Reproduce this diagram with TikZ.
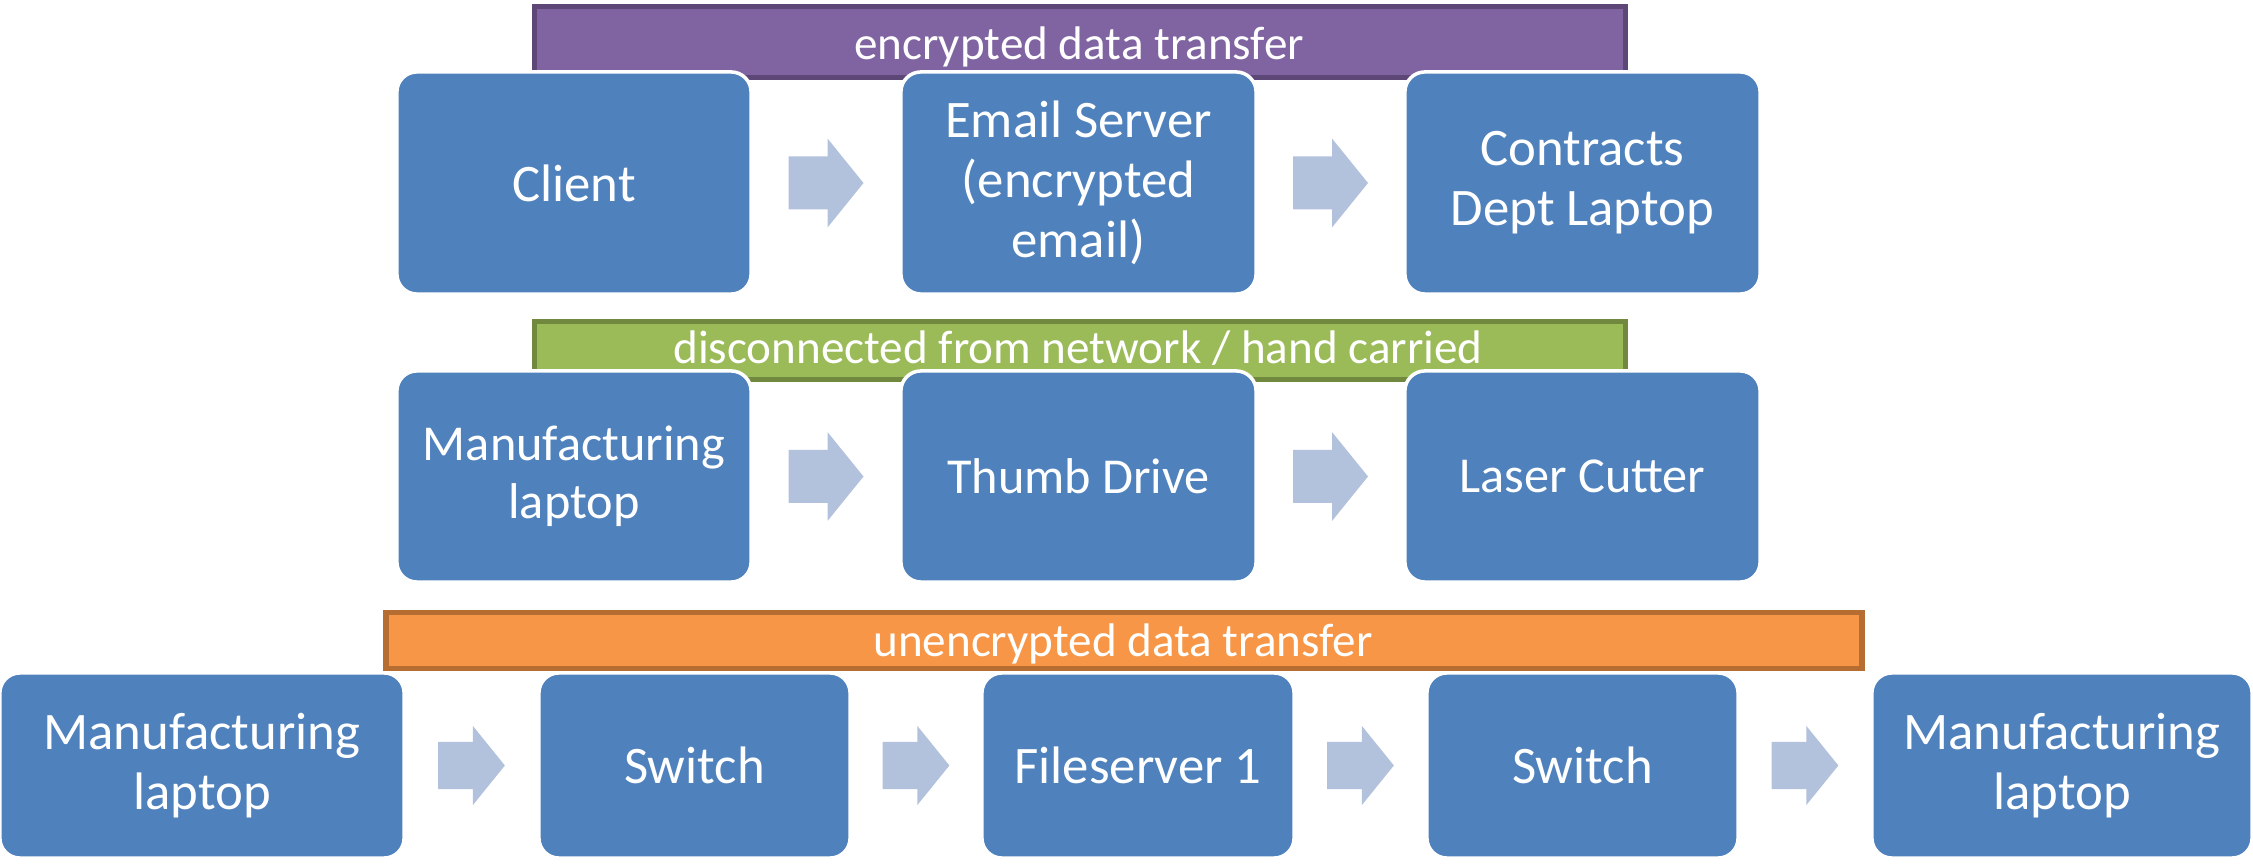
\documentclass[tikz,border=0pt]{standalone}
\usepackage{fontspec}
\setmainfont{Carlito}
\usetikzlibrary{calc}
\definecolor{boxblue}{HTML}{4F81BD}
\definecolor{arrowblue}{HTML}{B3C2DC}
\definecolor{purplefill}{HTML}{8064A2}
\definecolor{purpleline}{HTML}{5C4776}
\definecolor{greenfill}{HTML}{9BBB59}
\definecolor{greenline}{HTML}{71893F}
\definecolor{orangefill}{HTML}{F79646}
\definecolor{orangeline}{HTML}{B66D31}
\begin{document}
\begin{tikzpicture}[x=0.01cm,y=-0.01cm,
  stepbox/.style={draw=white, line width=1pt, fill=boxblue, rounded corners=0.2cm,
    text=white, align=center, inner sep=0pt, font=\fontsize{15}{17}\selectfont},
  smallstep/.style={stepbox, font=\fontsize{14.3}{16.5}\selectfont},
  bandbox/.style={line width=1.5pt, inner sep=0pt},
  bandtext/.style={text=white, anchor=base, inner sep=0pt, font=\fontsize{13.4}{16}\selectfont},
  flowarrow/.pic={\fill[arrowblue] (-37.5,-26.5) -- (1.5,-26.5) -- (1.5,-44.5) -- (37.5,0)
    -- (1.5,44.5) -- (1.5,26.5) -- (-37.5,26.5) -- cycle;}
]
\useasboundingbox (0,0) rectangle (2253,864);

% bands behind each row
\node[bandbox, draw=purpleline, fill=purplefill, minimum width=10.91cm, minimum height=0.71cm] (band1) at (1080,42) {};
\node[bandtext] (band1t) at (1079,60) {encrypted data transfer};
\node[bandbox, draw=greenline, fill=greenfill, minimum width=10.91cm, minimum height=0.58cm] (band2) at (1080,350.5) {};
\node[bandtext] (band2t) at (1078,364) {disconnected from network / hand carried};
\node[bandbox, draw=orangeline, fill=orangefill, minimum width=14.75cm, minimum height=0.56cm] (band3) at (1124,640.5) {};
\node[bandtext] (band3t) at (1123,657) {unencrypted data transfer};

% row 1
\node[stepbox, minimum width=3.54cm, minimum height=2.22cm] (client) at (574,183) {Client};
\node[stepbox, minimum width=3.55cm, minimum height=2.22cm] (email) at (1078.5,183) {Email Server\\(encrypted\\email)};
\node[stepbox, minimum width=3.55cm, minimum height=2.22cm] (contracts) at (1582.5,183) {Contracts\\Dept Laptop};
\pic at ($(client.east)!0.5!(email.west)$) {flowarrow};
\pic at ($(email.east)!0.5!(contracts.west)$) {flowarrow};

% row 2
\node[smallstep, minimum width=3.54cm, minimum height=2.11cm] (mfgA) at (574,476.5) {Manufacturing\\laptop};
\node[smallstep, minimum width=3.55cm, minimum height=2.11cm] (thumb) at (1078.5,476.5) {Thumb Drive};
\node[smallstep, minimum width=3.55cm, minimum height=2.11cm] (laser) at (1582.5,476.5) {Laser Cutter};
\pic at ($(mfgA.east)!0.5!(thumb.west)$) {flowarrow};
\pic at ($(thumb.east)!0.5!(laser.west)$) {flowarrow};

% row 3
\node[stepbox, minimum width=4.04cm, minimum height=1.85cm] (mfgB) at (202,765.5) {Manufacturing\\laptop};
\node[stepbox, minimum width=3.11cm, minimum height=1.85cm] (swA) at (694.5,765.5) {Switch};
\node[stepbox, minimum width=3.12cm, minimum height=1.85cm] (files) at (1138,765.5) {Fileserver 1};
\node[stepbox, minimum width=3.11cm, minimum height=1.85cm] (swB) at (1582.5,765.5) {Switch};
\node[stepbox, minimum width=3.80cm, minimum height=1.85cm] (mfgC) at (2062,765.5) {Manufacturing\\laptop};
\pic[scale=0.89] at ($(mfgB.east)!0.5!(swA.west)$) {flowarrow};
\pic[scale=0.89] at ($(swA.east)!0.5!(files.west)$) {flowarrow};
\pic[scale=0.89] at ($(files.east)!0.5!(swB.west)$) {flowarrow};
\pic[scale=0.89] at ($(swB.east)!0.5!(mfgC.west)$) {flowarrow};
\end{tikzpicture}
\end{document}
